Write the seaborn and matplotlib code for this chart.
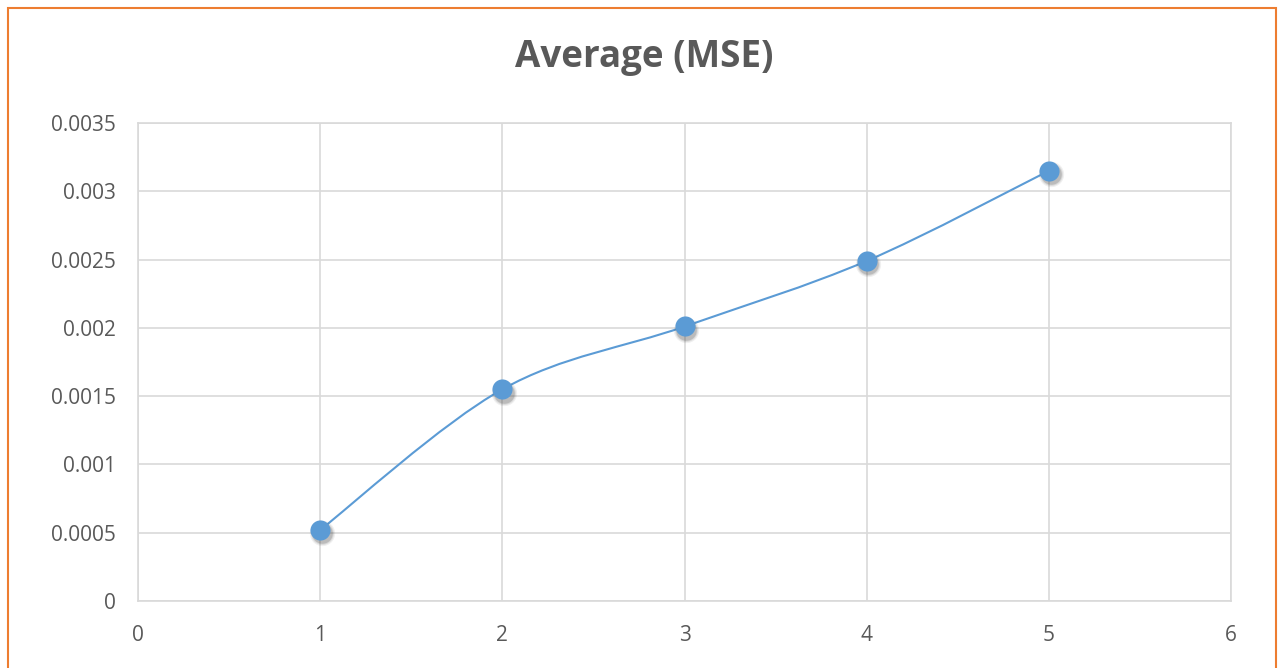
import numpy as np
import pandas as pd
import seaborn as sns
import matplotlib.pyplot as plt
from matplotlib.path import Path
from matplotlib.patches import PathPatch, Rectangle

# values
runs = [1, 2, 3, 4, 5]
avg_mse = [0.00052, 0.00155, 0.00201, 0.00249, 0.00315]
x_ticks = [0, 1, 2, 3, 4, 5, 6]
y_ticks = [0, 0.0005, 0.001, 0.0015, 0.002, 0.0025, 0.003, 0.0035]

blue = "#5B9BD5"
grid_col = "#D9D9D9"
text_col = "#595959"

sns.set_theme(style="whitegrid")
plt.rcParams["font.family"] = ["Open Sans", "DejaVu Sans"]

df = pd.DataFrame({"run": runs, "mse": avg_mse})

fig = plt.figure(figsize=(12.78, 6.68), dpi=100)
ax = fig.add_axes([138 / 1278, 67 / 668, (1231 - 138) / 1278, (601 - 123) / 668])

# smoothed line like Excel: cubic Bezier segments through the data points
pts = df[["run", "mse"]].to_numpy(dtype=float)
ext = np.vstack([pts[0], pts, pts[-1]])
verts = [tuple(pts[0])]
codes = [Path.MOVETO]
for i in range(len(pts) - 1):
    p0, p1, p2, p3 = ext[i], ext[i + 1], ext[i + 2], ext[i + 3]
    c1 = p1 + (p2 - p0) / 6
    c2 = p2 - (p3 - p1) / 6
    verts += [tuple(c1), tuple(c2), tuple(p2)]
    codes += [Path.CURVE4] * 3
ax.add_patch(PathPatch(Path(verts, codes), facecolor="none", edgecolor=blue,
                       linewidth=1.5, zorder=3))

# soft marker shadow (a few stacked translucent discs), then markers
shadow = df.copy()
shadow["run"] = shadow["run"] + 0.01
shadow["mse"] = shadow["mse"] - 0.000025
for size, a in [(330, 0.08), (270, 0.12), (220, 0.2)]:
    sns.scatterplot(data=shadow, x="run", y="mse", ax=ax, s=size, color="#404040",
                    alpha=a, linewidth=0, zorder=4, legend=False)
sns.scatterplot(data=df, x="run", y="mse", ax=ax, s=210, color=blue,
                linewidth=0, zorder=5, legend=False)

ax.set_xlim(0, 6)
ax.set_ylim(0, 0.0035)
ax.set_xticks(x_ticks)
ax.set_xticklabels([str(v) for v in x_ticks])
ax.set_yticks(y_ticks)
ax.set_yticklabels(["0", "0.0005", "0.001", "0.0015", "0.002", "0.0025", "0.003", "0.0035"])
ax.set_xlabel("")
ax.set_ylabel("")
ax.grid(True, color=grid_col, linewidth=1.2)
for s in ax.spines.values():
    s.set_color(grid_col)
    s.set_linewidth(1.2)
ax.tick_params(axis="both", length=0, labelsize=15, colors=text_col)
ax.tick_params(axis="y", pad=16)
ax.tick_params(axis="x", pad=17)

fig.suptitle("Average (MSE)", x=644 / 1278, y=1 - 57 / 668, va="center",
             fontsize=26.5, fontweight="bold", color=text_col)

fig.patches.append(Rectangle((8 / 1278, -0.05), (1276 - 8) / 1278, 1.05 - 8 / 668,
                             transform=fig.transFigure, fill=False,
                             edgecolor="#ED7D31", linewidth=1.5))

fig.savefig("out.png", dpi=100)
